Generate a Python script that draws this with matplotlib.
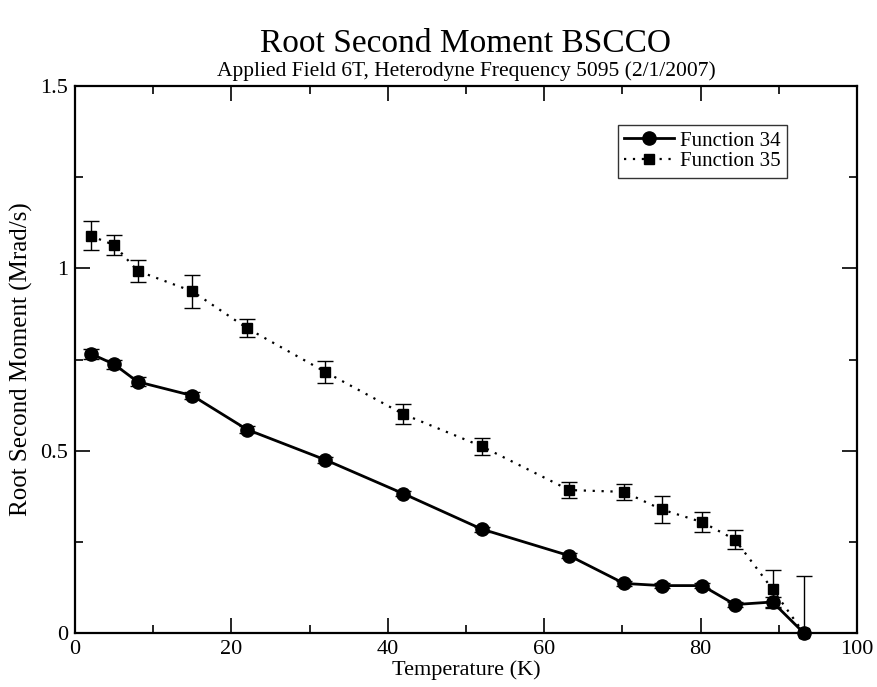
import matplotlib
matplotlib.use("Agg")
import matplotlib.pyplot as plt
from matplotlib.ticker import MultipleLocator, FuncFormatter
from matplotlib.lines import Line2D

plt.rcParams['font.family'] = ['Liberation Serif', 'DejaVu Serif']

temp34 = [2, 5, 8, 15, 22, 32, 42, 52, 63.2, 70.2, 75, 80.2, 84.4, 89.2, 93.2]
val34 = [0.766, 0.737, 0.689, 0.651, 0.558, 0.475, 0.382, 0.285, 0.212, 0.136, 0.130, 0.130, 0.078, 0.085, 0.0]
err34 = [0.014, 0.012, 0.012, 0.010, 0.010, 0.008, 0.007, 0.007, 0.007, 0.007, 0.007, 0.007, 0.007, 0.015, 0.0]

temp35 = [2, 5, 8, 15, 22, 32, 42, 52, 63.2, 70.2, 75, 80.2, 84.4, 89.2, 93.2]
val35 = [1.089, 1.064, 0.993, 0.937, 0.836, 0.716, 0.600, 0.512, 0.392, 0.387, 0.339, 0.304, 0.256, 0.120, 0.0]
err35 = [0.040, 0.027, 0.030, 0.045, 0.024, 0.030, 0.027, 0.023, 0.022, 0.022, 0.037, 0.028, 0.027, 0.052, 0.155]

labels = ['Function 34', 'Function 35']

fig = plt.figure(figsize=(8.78, 6.87), dpi=100)
ax = fig.add_axes([75/878, 1-633/687, (857-75)/878, (633-86)/687])

style34 = dict(color='black', lw=2, marker='o', ms=9.5)
style35 = dict(color='black', lw=1.6, ls=(0, (1, 3)), marker='s', ms=7.5)

c34 = ax.errorbar(temp34, val34, yerr=err34, ecolor='black', elinewidth=1, capsize=6,
                  capthick=1, clip_on=False, zorder=3, **style34)
c35 = ax.errorbar(temp35, val35, yerr=err35, ecolor='black', elinewidth=1, capsize=6,
                  capthick=1, clip_on=False, zorder=3, **style35)
for c in (c34, c35):
    for cl in c[1]:
        cl.set_clip_on(True)
    for bl in c[2]:
        bl.set_clip_on(True)

ax.set_xlim(0, 100)
ax.set_ylim(0, 1.5)
ax.xaxis.set_major_locator(MultipleLocator(20))
ax.xaxis.set_minor_locator(MultipleLocator(10))
ax.yaxis.set_major_locator(MultipleLocator(0.5))
ax.yaxis.set_minor_locator(MultipleLocator(0.25))
ax.yaxis.set_major_formatter(FuncFormatter(lambda v, p: f"{v:g}"))
ax.tick_params(which='both', direction='in', top=True, right=True, width=1.2, labelsize=16)
ax.tick_params(axis='x', pad=5)
ax.tick_params(axis='y', pad=5)
ax.tick_params(which='major', length=11)
ax.tick_params(which='minor', length=5.5)
for s in ax.spines.values():
    s.set_linewidth(1.6)

ax.set_xlabel('Temperature (K)', fontsize=16, labelpad=1)
ax.set_ylabel('Root Second Moment (Mrad/s)', fontsize=18, labelpad=5)

ax.text(0.5, 1.062, 'Root Second Moment BSCCO', transform=ax.transAxes, ha='center',
        va='baseline', fontsize=24)
ax.text(0.5, 1.018, 'Applied Field 6T, Heterodyne Frequency 5095 (2/1/2007)', transform=ax.transAxes,
        ha='center', va='baseline', fontsize=15.5)

handles = [Line2D([], [], **style34), Line2D([], [], **style35)]
leg = ax.legend(handles, labels, loc='upper right', bbox_to_anchor=(0.9105, 0.929), borderaxespad=0,
                fontsize=15, frameon=True, fancybox=False, handlelength=2.4,
                handletextpad=0.3, borderpad=0.3, labelspacing=0.05)
leg.get_frame().set_edgecolor('black')
leg.get_frame().set_linewidth(1)

fig.savefig('out.png', dpi=100)
